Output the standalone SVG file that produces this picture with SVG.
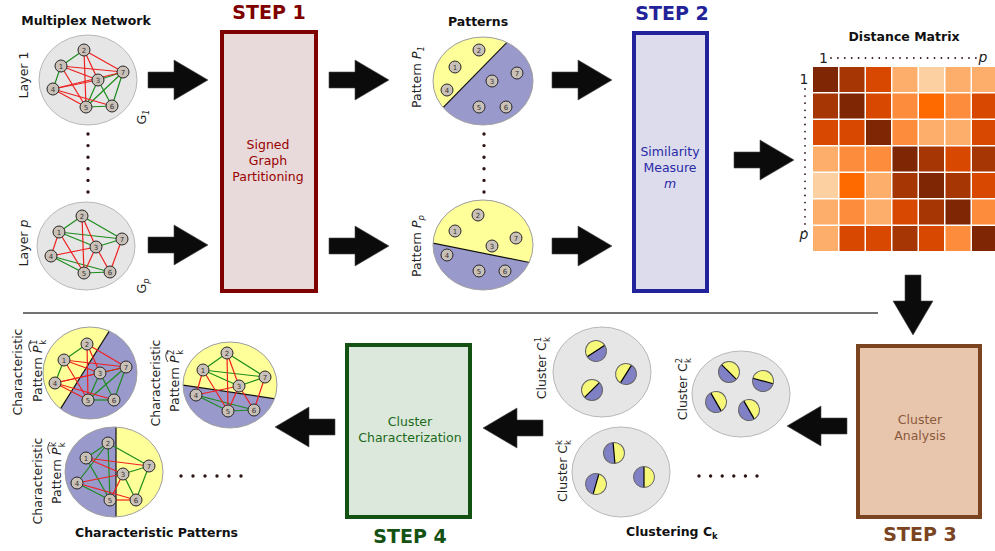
<svg xmlns="http://www.w3.org/2000/svg" width="995" height="551" viewBox="0 0 995 551">
<style>
text{font-family:"DejaVu Sans","Liberation Sans",sans-serif}
.ttl{font-weight:bold;font-size:12.5px;fill:#111}
.lbl{font-size:12.5px;fill:#222}
.it{font-style:italic}
.nl{font-size:7px;text-anchor:middle;fill:#333}
.nd circle{fill:#c9c0b7;stroke:#262626;stroke-width:1}
.g line{stroke:#1c8c1c;stroke-width:1.2}
.r line{stroke:#f02020;stroke-width:1.2}
.bg{fill:#e6e6e6;stroke:#b8b8b8;stroke-width:1}
.yel{fill:#ffff99}
.pur{fill:#9999cc}
.rim{fill:none;stroke:#a0a0a0;stroke-width:1}
.cut{stroke:#111;stroke-width:1.2}
.dots{fill:none;stroke:#2e1414;stroke-linecap:round}
.arrow{fill:#0b0b0b;stroke:#4a4a4a;stroke-width:0.6}
.box .step{font-weight:bold;font-size:19px;text-anchor:middle}
.box .bt text{font-size:12.5px;text-anchor:middle}
.hat{fill:none;stroke:#222;stroke-width:0.9}
.c1{fill:#7f2704}.c2{fill:#a63603}.c3{fill:#d94801}.c4{fill:#fd8d3c}.c5{fill:#fdae6b}.c6{fill:#fdd0a2}.c7{fill:#ff6a00}
</style>
<defs>
  <path id="arrow" d="M0,-8 H26 V-20 L60,0 L26,20 V8 H0 Z"/>
  <g id="mini">
    <circle r="10.5" fill="#8080c4"/>
    <path d="M-10.5,0 A10.5,10.5 0 0 1 10.5,0 Z" fill="#f7f77a"/>
    <line x1="-10.5" y1="0" x2="10.5" y2="0" stroke="#000" stroke-width="1.2"/>
    <circle r="10.5" fill="none" stroke="#666" stroke-width="1"/>
  </g>
  <clipPath id="clipP1"><ellipse cx="483" cy="81" rx="50" ry="44"/></clipPath>
  <clipPath id="clipPp"><ellipse cx="483" cy="245" rx="50" ry="45"/></clipPath>
  <clipPath id="clipC1"><ellipse cx="90" cy="373" rx="47" ry="46"/></clipPath>
  <clipPath id="clipC2"><ellipse cx="230" cy="385" rx="47" ry="43"/></clipPath>
  <clipPath id="clipCk"><ellipse cx="114" cy="472" rx="49" ry="45"/></clipPath>
</defs>
<rect width="995" height="551" fill="#fff"/>

<!-- section titles -->
<g id="titles">
  <text class="ttl" x="86" y="25" text-anchor="middle">Multiplex Network</text>
  <text class="ttl" x="478" y="26" text-anchor="middle">Patterns</text>
  <text class="ttl" x="904" y="40.5" text-anchor="middle" font-size="11.8">Distance Matrix</text>
  <text class="ttl" x="156.5" y="537" text-anchor="middle">Characteristic Patterns</text>
  <text class="ttl" x="626" y="536">Clustering C<tspan font-size="8.5" dy="3">k</tspan></text>
  <line x1="23" y1="313" x2="878" y2="313" stroke="#444" stroke-width="1.4"/>
</g>

<!-- layer 1 -->
<g id="layer1">
  <ellipse class="bg" cx="88" cy="80" rx="49" ry="45"/>
  <g class="g">
    <line x1="61" y1="66" x2="84" y2="50"/><line x1="61" y1="66" x2="53" y2="89"/>
    <line x1="98" y1="80" x2="123" y2="72"/><line x1="86" y1="107" x2="123" y2="72" stroke-width="1.6"/>
    <line x1="112" y1="106" x2="123" y2="72"/><line x1="98" y1="80" x2="86" y2="107"/>
    <line x1="98" y1="80" x2="112" y2="106"/><line x1="86" y1="107" x2="112" y2="106"/>
  </g>
  <g class="r">
    <line x1="84" y1="50" x2="123" y2="72"/><line x1="84" y1="50" x2="98" y2="80"/>
    <line x1="84" y1="50" x2="86" y2="107"/><line x1="61" y1="66" x2="123" y2="72"/>
    <line x1="61" y1="66" x2="98" y2="80"/><line x1="61" y1="66" x2="86" y2="107"/>
    <line x1="53" y1="89" x2="98" y2="80"/><line x1="53" y1="89" x2="123" y2="72"/>
    <line x1="53" y1="89" x2="86" y2="107"/><line x1="53" y1="89" x2="112" y2="106"/>
  </g>
  <g class="nd">
    <circle cx="61" cy="66" r="6"/><circle cx="84" cy="50" r="6"/><circle cx="98" cy="80" r="6"/>
    <circle cx="53" cy="89" r="6"/><circle cx="86" cy="107" r="6"/><circle cx="112" cy="106" r="6"/><circle cx="123" cy="72" r="6"/>
  </g>
  <g class="nl">
    <text x="61" y="68.5">1</text><text x="84" y="52.5">2</text><text x="98" y="82.5">3</text>
    <text x="53" y="91.5">4</text><text x="86" y="109.5">5</text><text x="112" y="108.5">6</text><text x="123" y="74.5">7</text>
  </g>
  <text class="lbl" transform="translate(28,75) rotate(-90)" text-anchor="middle">Layer 1</text>
  <text class="lbl" transform="translate(146,117) rotate(-90)" text-anchor="middle">G<tspan class="it" font-size="8.5" dy="3">1</tspan></text>
</g>

<!-- layer p -->
<g id="layerp">
  <ellipse class="bg" cx="86" cy="246" rx="49" ry="44"/>
  <g class="g">
    <line x1="59" y1="232" x2="82" y2="216"/><line x1="82" y1="216" x2="122" y2="239"/>
    <line x1="59" y1="232" x2="122" y2="239"/><line x1="59" y1="232" x2="96" y2="247"/>
    <line x1="96" y1="247" x2="122" y2="239"/><line x1="51" y1="256" x2="84" y2="273"/>
    <line x1="51" y1="256" x2="110" y2="272"/><line x1="84" y1="273" x2="110" y2="272"/>
  </g>
  <g class="r">
    <line x1="82" y1="216" x2="84" y2="273"/><line x1="82" y1="216" x2="96" y2="247"/>
    <line x1="59" y1="232" x2="51" y2="256"/><line x1="59" y1="232" x2="84" y2="273"/>
    <line x1="51" y1="256" x2="96" y2="247"/><line x1="96" y1="247" x2="84" y2="273"/>
    <line x1="96" y1="247" x2="110" y2="272"/><line x1="122" y1="239" x2="110" y2="272"/>
  </g>
  <g class="nd">
    <circle cx="59" cy="232" r="6"/><circle cx="82" cy="216" r="6"/><circle cx="96" cy="247" r="6"/>
    <circle cx="51" cy="256" r="6"/><circle cx="84" cy="273" r="6"/><circle cx="110" cy="272" r="6"/><circle cx="122" cy="239" r="6"/>
  </g>
  <g class="nl">
    <text x="59" y="234.5">1</text><text x="82" y="218.5">2</text><text x="96" y="249.5">3</text>
    <text x="51" y="258.5">4</text><text x="84" y="275.5">5</text><text x="110" y="274.5">6</text><text x="122" y="241.5">7</text>
  </g>
  <text class="lbl" transform="translate(28,243) rotate(-90)" text-anchor="middle">Layer <tspan class="it">p</tspan></text>
  <text class="lbl" transform="translate(146,286) rotate(-90)" text-anchor="middle">G<tspan class="it" font-size="8.5" dy="3">p</tspan></text>
  <line class="dots" x1="88" y1="134" x2="88" y2="192.5" stroke-width="3.4" stroke-dasharray="0 11.6"/>
</g>

<!-- step 1 -->
<g id="step1" class="box">
  <rect x="222" y="32" width="94" height="259" fill="#e8d9da" stroke="#7f0000" stroke-width="4"/>
  <text class="step" x="269" y="19" fill="#800000">STEP 1</text>
  <g class="bt" fill="#990000">
    <text x="268" y="148.5">Signed</text>
    <text x="268" y="164.5">Graph</text>
    <text x="268" y="180.5">Partitioning</text>
  </g>
</g>

<!-- pattern 1 -->
<g id="pattern1">
  <ellipse class="pur" cx="483" cy="81" rx="50" ry="44"/>
  <g clip-path="url(#clipP1)">
    <polygon class="yel" points="430,121 521,28 425,28 425,121"/>
    <line class="cut" x1="430" y1="121" x2="521" y2="28"/>
  </g>
  <ellipse class="rim" cx="483" cy="81" rx="50" ry="44"/>
  <g class="nd">
    <circle cx="455" cy="67" r="6"/><circle cx="479" cy="50" r="6"/><circle cx="492" cy="81" r="6"/>
    <circle cx="447" cy="90" r="6"/><circle cx="479" cy="107" r="6"/><circle cx="506" cy="107" r="6"/><circle cx="517" cy="73" r="6"/>
  </g>
  <g class="nl">
    <text x="455" y="69.5">1</text><text x="479" y="52.5">2</text><text x="492" y="83.5">3</text>
    <text x="447" y="92.5">4</text><text x="479" y="109.5">5</text><text x="506" y="109.5">6</text><text x="517" y="75.5">7</text>
  </g>
  <text class="lbl" transform="translate(421,77) rotate(-90)" text-anchor="middle">Pattern <tspan class="it">P</tspan><tspan class="it" font-size="8.5" dy="3">1</tspan></text>
</g>

<!-- pattern p -->
<g id="patternp">
  <ellipse class="pur" cx="483" cy="245" rx="50" ry="45"/>
  <g clip-path="url(#clipPp)">
    <polygon class="yel" points="425,241.6 540,264.6 540,195 425,195"/>
    <line class="cut" x1="425" y1="241.6" x2="540" y2="264.6"/>
  </g>
  <ellipse class="rim" cx="483" cy="245" rx="50" ry="45"/>
  <g class="nd">
    <circle cx="455" cy="231" r="6"/><circle cx="478" cy="215" r="6"/><circle cx="492" cy="246" r="6"/>
    <circle cx="447" cy="255" r="6"/><circle cx="479" cy="271" r="6"/><circle cx="505" cy="271" r="6"/><circle cx="516" cy="238" r="6"/>
  </g>
  <g class="nl">
    <text x="455" y="233.5">1</text><text x="478" y="217.5">2</text><text x="492" y="248.5">3</text>
    <text x="447" y="257.5">4</text><text x="479" y="273.5">5</text><text x="505" y="273.5">6</text><text x="516" y="240.5">7</text>
  </g>
  <text class="lbl" transform="translate(421,246) rotate(-90)" text-anchor="middle">Pattern <tspan class="it">P</tspan><tspan class="it" font-size="8.5" dy="3">p</tspan></text>
  <line class="dots" x1="484" y1="134" x2="484" y2="192.5" stroke-width="3.4" stroke-dasharray="0 11.6"/>
</g>

<!-- step 2 -->
<g id="step2" class="box">
  <rect x="634" y="33" width="73" height="258" fill="#dcdcec" stroke="#22229a" stroke-width="4"/>
  <text class="step" x="672" y="20" fill="#222299">STEP 2</text>
  <g class="bt" fill="#2a2aa8">
    <text x="670" y="156">Similarity</text>
    <text x="670" y="172">Measure</text>
    <text x="670" y="188" class="it">m</text>
  </g>
</g>

<!-- distance matrix -->
<g id="distance-matrix">
  <text x="823.5" y="62.5" font-size="14" text-anchor="middle" fill="#222">1</text>
  <text x="983" y="62" font-size="14" text-anchor="middle" fill="#222" class="it">p</text>
  <text x="804" y="84" font-size="14" text-anchor="middle" fill="#222">1</text>
  <text x="804" y="239" font-size="14" text-anchor="middle" fill="#222" class="it">p</text>
  <line class="dots" x1="831" y1="58" x2="976" y2="58" stroke-width="1.8" stroke-dasharray="0 6.9"/>
  <line class="dots" x1="805" y1="89" x2="805" y2="231" stroke-width="1.8" stroke-dasharray="0 7.1"/>
  <g>
    <rect class="c1" x="813" y="67" width="25" height="25"/><rect class="c2" x="839.5" y="67" width="25" height="25"/><rect class="c3" x="866" y="67" width="25" height="25"/><rect class="c5" x="892.5" y="67" width="25" height="25"/><rect class="c6" x="919" y="67" width="25" height="25"/><rect class="c5" x="945.5" y="67" width="25" height="25"/><rect class="c5" x="972" y="67" width="25" height="25"/>
    <rect class="c2" x="813" y="93.5" width="25" height="25"/><rect class="c1" x="839.5" y="93.5" width="25" height="25"/><rect class="c3" x="866" y="93.5" width="25" height="25"/><rect class="c4" x="892.5" y="93.5" width="25" height="25"/><rect class="c7" x="919" y="93.5" width="25" height="25"/><rect class="c4" x="945.5" y="93.5" width="25" height="25"/><rect class="c3" x="972" y="93.5" width="25" height="25"/>
    <rect class="c3" x="813" y="120" width="25" height="25"/><rect class="c3" x="839.5" y="120" width="25" height="25"/><rect class="c1" x="866" y="120" width="25" height="25"/><rect class="c4" x="892.5" y="120" width="25" height="25"/><rect class="c5" x="919" y="120" width="25" height="25"/><rect class="c5" x="945.5" y="120" width="25" height="25"/><rect class="c3" x="972" y="120" width="25" height="25"/>
    <rect class="c5" x="813" y="146.5" width="25" height="25"/><rect class="c4" x="839.5" y="146.5" width="25" height="25"/><rect class="c4" x="866" y="146.5" width="25" height="25"/><rect class="c1" x="892.5" y="146.5" width="25" height="25"/><rect class="c2" x="919" y="146.5" width="25" height="25"/><rect class="c3" x="945.5" y="146.5" width="25" height="25"/><rect class="c2" x="972" y="146.5" width="25" height="25"/>
    <rect class="c6" x="813" y="173" width="25" height="25"/><rect class="c7" x="839.5" y="173" width="25" height="25"/><rect class="c5" x="866" y="173" width="25" height="25"/><rect class="c2" x="892.5" y="173" width="25" height="25"/><rect class="c1" x="919" y="173" width="25" height="25"/><rect class="c2" x="945.5" y="173" width="25" height="25"/><rect class="c3" x="972" y="173" width="25" height="25"/>
    <rect class="c5" x="813" y="199.5" width="25" height="25"/><rect class="c4" x="839.5" y="199.5" width="25" height="25"/><rect class="c5" x="866" y="199.5" width="25" height="25"/><rect class="c3" x="892.5" y="199.5" width="25" height="25"/><rect class="c2" x="919" y="199.5" width="25" height="25"/><rect class="c1" x="945.5" y="199.5" width="25" height="25"/><rect class="c4" x="972" y="199.5" width="25" height="25"/>
    <rect class="c5" x="813" y="226" width="25" height="25"/><rect class="c3" x="839.5" y="226" width="25" height="25"/><rect class="c3" x="866" y="226" width="25" height="25"/><rect class="c2" x="892.5" y="226" width="25" height="25"/><rect class="c3" x="919" y="226" width="25" height="25"/><rect class="c4" x="945.5" y="226" width="25" height="25"/><rect class="c1" x="972" y="226" width="25" height="25"/>
  </g>
</g>

<!-- step 3 -->
<g id="step3" class="box">
  <rect x="858" y="346" width="122" height="171" fill="#e8c6ae" stroke="#7a4421" stroke-width="4"/>
  <text class="step" x="920" y="541" fill="#7a4421">STEP 3</text>
  <g class="bt" fill="#8b5a3c">
    <text x="920" y="424">Cluster</text>
    <text x="920" y="440">Analysis</text>
  </g>
</g>

<!-- cluster 1 -->
<g id="cluster1">
  <ellipse class="bg" cx="602" cy="372" rx="49" ry="45"/>
  <use href="#mini" transform="translate(596,351) rotate(-33)"/>
  <use href="#mini" transform="translate(626,374) rotate(-58)"/>
  <use href="#mini" transform="translate(592,390) rotate(-45)"/>
  <text class="lbl" transform="translate(546,368) rotate(-90)" text-anchor="middle">Cluster C<tspan font-size="8.5" dy="-5">1</tspan><tspan font-size="8.5" dx="-5.2" dy="8.5">k</tspan></text>
</g>

<!-- cluster 2 -->
<g id="cluster2">
  <ellipse class="bg" cx="741" cy="394" rx="49" ry="43"/>
  <use href="#mini" transform="translate(729,372) rotate(45)"/>
  <use href="#mini" transform="translate(763,381) rotate(15)"/>
  <use href="#mini" transform="translate(716,402) rotate(60)"/>
  <use href="#mini" transform="translate(749,410) rotate(60)"/>
  <text class="lbl" transform="translate(687,389) rotate(-90)" text-anchor="middle">Cluster C<tspan font-size="8.5" dy="-5">2</tspan><tspan font-size="8.5" dx="-5.2" dy="8.5">k</tspan></text>
</g>

<!-- cluster k -->
<g id="clusterk">
  <ellipse class="bg" cx="621" cy="472" rx="49" ry="45"/>
  <use href="#mini" transform="translate(614,453) rotate(85)"/>
  <use href="#mini" transform="translate(644,477) rotate(90)"/>
  <use href="#mini" transform="translate(596,484) rotate(106)"/>
  <text class="lbl" transform="translate(567,471) rotate(-90)" text-anchor="middle">Cluster C<tspan font-size="8.5" dy="-5">k</tspan><tspan font-size="8.5" dx="-5" dy="8.5">k</tspan></text>
  <line class="dots" x1="699" y1="476" x2="757.5" y2="476" stroke-width="3.4" stroke-dasharray="0 11.6"/>
</g>

<!-- step 4 -->
<g id="step4" class="box">
  <rect x="347" y="345" width="123" height="172" fill="#dde8dc" stroke="#145214" stroke-width="4"/>
  <text class="step" x="410" y="543" fill="#145214">STEP 4</text>
  <g class="bt" fill="#1a6a1a">
    <text x="410" y="426">Cluster</text>
    <text x="410" y="442" font-size="11.8">Characterization</text>
  </g>
</g>

<!-- characteristic pattern 1 -->
<g id="charpattern1">
  <ellipse class="pur" cx="90" cy="373" rx="47" ry="46"/>
  <g clip-path="url(#clipC1)">
    <polygon class="yel" points="51,424 120,314 35,314 35,424"/>
    <line class="cut" x1="51" y1="424" x2="120" y2="314"/>
  </g>
  <ellipse class="rim" cx="90" cy="373" rx="47" ry="46"/>
  <g class="g">
    <line x1="64" y1="360" x2="87" y2="344"/><line x1="64" y1="360" x2="55" y2="383"/>
    <line x1="100" y1="373" x2="126" y2="367"/><line x1="88" y1="400" x2="126" y2="367" stroke-width="1.6"/>
    <line x1="114" y1="400" x2="126" y2="367"/><line x1="100" y1="373" x2="88" y2="400"/>
    <line x1="100" y1="373" x2="114" y2="400"/><line x1="88" y1="400" x2="114" y2="400"/>
  </g>
  <g class="r">
    <line x1="87" y1="344" x2="126" y2="367"/><line x1="87" y1="344" x2="100" y2="373"/>
    <line x1="87" y1="344" x2="88" y2="400"/><line x1="64" y1="360" x2="126" y2="367"/>
    <line x1="64" y1="360" x2="100" y2="373"/><line x1="64" y1="360" x2="88" y2="400"/>
    <line x1="55" y1="383" x2="100" y2="373"/><line x1="55" y1="383" x2="126" y2="367"/>
    <line x1="55" y1="383" x2="88" y2="400"/><line x1="55" y1="383" x2="114" y2="400"/>
  </g>
  <g class="nd">
    <circle cx="64" cy="360" r="6"/><circle cx="87" cy="344" r="6"/><circle cx="100" cy="373" r="6"/>
    <circle cx="55" cy="383" r="6"/><circle cx="88" cy="400" r="6"/><circle cx="114" cy="400" r="6"/><circle cx="126" cy="367" r="6"/>
  </g>
  <g class="nl">
    <text x="64" y="362.5">1</text><text x="87" y="346.5">2</text><text x="100" y="375.5">3</text>
    <text x="55" y="385.5">4</text><text x="88" y="402.5">5</text><text x="114" y="402.5">6</text><text x="126" y="369.5">7</text>
  </g>
  <g transform="translate(22,372) rotate(-90)">
    <text class="lbl" text-anchor="middle">Characteristic</text>
    <text class="lbl" x="-30" y="20">Pattern <tspan class="it">P</tspan><tspan font-size="8.5" dx="0.5" dy="-5">1</tspan><tspan font-size="8.5" dx="-5.2" dy="8.5">k</tspan></text>
    <path class="hat" d="M20,9 Q26,4.5 32,9"/>
  </g>
</g>

<!-- characteristic pattern 2 -->
<g id="charpattern2">
  <ellipse class="pur" cx="230" cy="385" rx="47" ry="43"/>
  <g clip-path="url(#clipC2)">
    <polygon class="yel" points="175,384 285,400.2 285,335 175,335"/>
    <line class="cut" x1="175" y1="384" x2="285" y2="400.2"/>
  </g>
  <ellipse class="rim" cx="230" cy="385" rx="47" ry="43"/>
  <g class="g">
    <line x1="203" y1="370" x2="227" y2="353"/><line x1="227" y1="353" x2="265" y2="377"/>
    <line x1="203" y1="370" x2="265" y2="377"/><line x1="203" y1="370" x2="239" y2="386"/>
    <line x1="239" y1="386" x2="265" y2="377"/><line x1="196" y1="395" x2="228" y2="411"/>
    <line x1="196" y1="395" x2="254" y2="410"/><line x1="228" y1="411" x2="254" y2="410"/>
  </g>
  <g class="r">
    <line x1="227" y1="353" x2="228" y2="411"/><line x1="227" y1="353" x2="239" y2="386"/>
    <line x1="203" y1="370" x2="196" y2="395"/><line x1="203" y1="370" x2="228" y2="411"/>
    <line x1="196" y1="395" x2="239" y2="386"/><line x1="239" y1="386" x2="228" y2="411"/>
    <line x1="239" y1="386" x2="254" y2="410"/><line x1="265" y1="377" x2="254" y2="410"/>
  </g>
  <g class="nd">
    <circle cx="203" cy="370" r="6"/><circle cx="227" cy="353" r="6"/><circle cx="239" cy="386" r="6"/>
    <circle cx="196" cy="395" r="6"/><circle cx="228" cy="411" r="6"/><circle cx="254" cy="410" r="6"/><circle cx="265" cy="377" r="6"/>
  </g>
  <g class="nl">
    <text x="203" y="372.5">1</text><text x="227" y="355.5">2</text><text x="239" y="388.5">3</text>
    <text x="196" y="397.5">4</text><text x="228" y="413.5">5</text><text x="254" y="412.5">6</text><text x="265" y="379.5">7</text>
  </g>
  <g transform="translate(160,383) rotate(-90)">
    <text class="lbl" text-anchor="middle">Characteristic</text>
    <text class="lbl" x="-29" y="19">Pattern <tspan class="it">P</tspan><tspan font-size="8.5" dx="0.5" dy="-5">2</tspan><tspan font-size="8.5" dx="-5.2" dy="8.5">k</tspan></text>
    <path class="hat" d="M21,8 Q27,3.5 33,8"/>
  </g>
</g>

<!-- characteristic pattern k -->
<g id="charpatternk">
  <ellipse class="yel" cx="114" cy="472" rx="49" ry="45"/>
  <g clip-path="url(#clipCk)">
    <rect class="pur" x="60" y="420" width="56" height="105"/>
    <line class="cut" x1="116" y1="420" x2="116" y2="525"/>
  </g>
  <ellipse class="rim" cx="114" cy="472" rx="49" ry="45"/>
  <g class="g">
    <line x1="86" y1="458" x2="108" y2="443"/><line x1="108" y1="443" x2="77" y2="483"/>
    <line x1="108" y1="443" x2="149" y2="466"/><line x1="86" y1="458" x2="110" y2="500"/>
    <line x1="77" y1="483" x2="110" y2="500"/><line x1="123" y1="474" x2="149" y2="466"/>
    <line x1="123" y1="474" x2="136" y2="500"/><line x1="136" y1="500" x2="149" y2="466"/>
    <line x1="108" y1="443" x2="110" y2="500"/>
  </g>
  <g class="r">
    <line x1="86" y1="458" x2="149" y2="466"/><line x1="86" y1="458" x2="123" y2="474"/>
    <line x1="77" y1="483" x2="123" y2="474"/><line x1="77" y1="483" x2="136" y2="500"/>
    <line x1="123" y1="474" x2="110" y2="500"/><line x1="110" y1="500" x2="136" y2="500"/>
  </g>
  <g class="nd">
    <circle cx="86" cy="458" r="6"/><circle cx="108" cy="443" r="6"/><circle cx="123" cy="474" r="6"/>
    <circle cx="77" cy="483" r="6"/><circle cx="110" cy="500" r="6"/><circle cx="136" cy="500" r="6"/><circle cx="149" cy="466" r="6"/>
  </g>
  <g class="nl">
    <text x="86" y="460.5">1</text><text x="108" y="445.5">2</text><text x="123" y="476.5">3</text>
    <text x="77" y="485.5">4</text><text x="110" y="502.5">5</text><text x="136" y="502.5">6</text><text x="149" y="468.5">7</text>
  </g>
  <g transform="translate(42,481) rotate(-90)">
    <text class="lbl" text-anchor="middle">Characteristic</text>
    <text class="lbl" x="-23" y="19">Pattern <tspan class="it">P</tspan><tspan font-size="8.5" dx="0.5" dy="-5">k</tspan><tspan font-size="8.5" dx="-5.2" dy="8.5">k</tspan></text>
    <path class="hat" d="M27,8 Q33,3.5 39,8"/>
  </g>
  <line class="dots" x1="181" y1="476" x2="241.5" y2="476" stroke-width="3.4" stroke-dasharray="0 12"/>
</g>

<!-- flow arrows -->
<g id="connectors" class="arrow">
  <use href="#arrow" transform="translate(148,80)"/>
  <use href="#arrow" transform="translate(148,245)"/>
  <use href="#arrow" transform="translate(329,80)"/>
  <use href="#arrow" transform="translate(329,246)"/>
  <use href="#arrow" transform="translate(552,80)"/>
  <use href="#arrow" transform="translate(552,246)"/>
  <use href="#arrow" transform="translate(734,160)"/>
  <use href="#arrow" transform="translate(913,275) rotate(90)"/>
  <use href="#arrow" transform="translate(847,426) rotate(180)"/>
  <use href="#arrow" transform="translate(543,428) rotate(180)"/>
  <use href="#arrow" transform="translate(335,427) rotate(180)"/>
</g>
</svg>
